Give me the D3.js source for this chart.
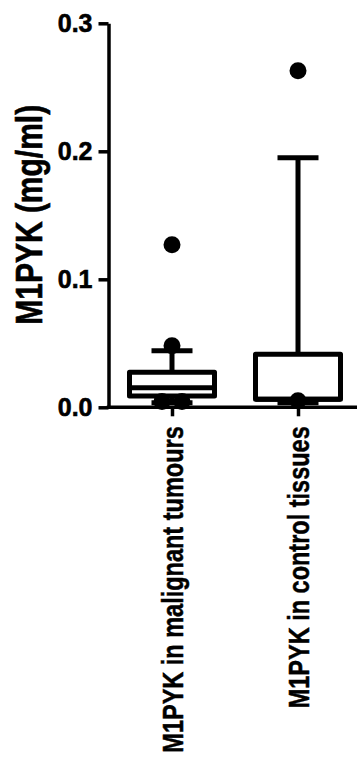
<!DOCTYPE html>
<html>
<head>
<meta charset="utf-8">
<script src="https://cdn.jsdelivr.net/npm/d3@7"></script>
<style>
  body { margin: 0; background: #fff; }
  svg { display: block; font-family: "Liberation Sans", Arial, sans-serif; font-weight: bold; }
</style>
</head>
<body>
<svg class="boxchart" width="359" height="758"></svg>
<script>
(function () {

    'use strict';

    // data
    var categories = ['M1PYK in malignant tumours', 'M1PYK in control tissues'];
    var whiskerLow = [0.0035, 0.0035];
    var q1 = [0.0088, 0.0062];
    var median = [0.0152, 0.0062];
    var q3 = [0.0273, 0.0414];
    var whiskerHigh = [0.0442, 0.1950];
    var outliers = [
        [0.127, 0.048, 0.0045, 0.0045],
        [0.263, 0.0052]
    ];
    var yTicks = [0.0, 0.1, 0.2, 0.3];
    var yTitle = 'M1PYK (mg/ml)';

    var svg = d3.select('svg.boxchart');
    var axisLeftX = 108.5, axisRightX = 357;
    var top = 23.3, bottom = 407.3;

    var y = d3.scaleLinear().domain([0, 0.3]).range([bottom, top]);
    var x = d3.scalePoint().domain(categories).range([172, 298]);

    var boxW = 85, capW = 41, dotR = 8.5;

    var groups = categories.map(function (c, i) {
        return {
            name: c, low: whiskerLow[i], q1: q1[i], med: median[i],
            q3: q3[i], high: whiskerHigh[i], out: outliers[i]
        };
    });

    var g = svg.append('g');

    // y axis
    var yAxis = g.append('g')
        .attr('transform', 'translate(' + axisLeftX + ',0)')
        .call(d3.axisLeft(y).tickValues(yTicks).tickFormat(d3.format('.1f'))
            .tickSize(10).tickSizeOuter(0).tickPadding(6));
    yAxis.select('.domain').attr('stroke', '#000').attr('stroke-width', 3.5);
    yAxis.selectAll('.tick line').attr('stroke', '#000').attr('stroke-width', 3.5);
    yAxis.selectAll('.tick text')
        .attr('fill', '#000')
        .attr('stroke', '#000')
        .attr('stroke-width', 0.6)
        .attr('font-size', 25)
        .attr('font-family', '"Liberation Sans", Arial, sans-serif')
        .attr('font-weight', 'bold');

    // y title
    g.append('text')
        .attr('transform', 'translate(42,' + ((top + bottom) / 2 - 0.5) + ') rotate(-90) scale(1,1.25)')
        .attr('text-anchor', 'middle')
        .attr('font-size', 30)
        .attr('fill', '#000')
        .attr('stroke', '#000')
        .attr('stroke-width', 0.5)
        .text(yTitle);

    // x axis
    var xAxis = g.append('g')
        .attr('transform', 'translate(0,' + bottom + ')')
        .call(d3.axisBottom(x).tickSize(9).tickSizeOuter(0).tickPadding(8));
    xAxis.select('.domain').remove();
    xAxis.insert('line', ':first-child')
        .attr('x1', axisLeftX - 1.75).attr('x2', axisRightX)
        .attr('stroke', '#000').attr('stroke-width', 3.5);
    xAxis.selectAll('.tick line').attr('stroke', '#000').attr('stroke-width', 3.5);
    xAxis.selectAll('.tick text')
        .attr('fill', '#000')
        .attr('stroke', '#000')
        .attr('stroke-width', 0.4)
        .attr('font-size', 23.5)
        .attr('font-family', '"Liberation Sans", Arial, sans-serif')
        .attr('font-weight', 'bold')
        .attr('text-anchor', 'end')
        .attr('transform', 'rotate(-90) scale(1,1.25)')
        .attr('x', -19)
        .attr('y', 0)
        .attr('dy', '0.36em');

    // boxes
    var box = g.append('g').selectAll('g')
        .data(groups)
        .enter().append('g')
        .attr('transform', function (d) { return 'translate(' + x(d.name) + ',0)'; });

    box.append('line')
        .attr('x1', 0).attr('x2', 0)
        .attr('y1', function (d) { return y(d.high); })
        .attr('y2', function (d) { return y(d.low); })
        .attr('stroke', '#000').attr('stroke-width', 5);

    box.append('line')
        .attr('x1', -capW / 2).attr('x2', capW / 2)
        .attr('y1', function (d) { return y(d.high); })
        .attr('y2', function (d) { return y(d.high); })
        .attr('stroke', '#000').attr('stroke-width', 5);

    box.append('line')
        .attr('x1', -capW / 2).attr('x2', capW / 2)
        .attr('y1', function (d) { return y(d.low); })
        .attr('y2', function (d) { return y(d.low); })
        .attr('stroke', '#000').attr('stroke-width', 5);

    box.append('rect')
        .attr('x', -boxW / 2)
        .attr('width', boxW)
        .attr('y', function (d) { return y(d.q3); })
        .attr('height', function (d) { return y(d.q1) - y(d.q3); })
        .attr('fill', '#fff')
        .attr('stroke', '#000')
        .attr('stroke-width', 5)
        .attr('stroke-linejoin', 'round');

    box.append('line')
        .attr('x1', -boxW / 2).attr('x2', boxW / 2)
        .attr('y1', function (d) { return y(d.med); })
        .attr('y2', function (d) { return y(d.med); })
        .attr('stroke', '#000').attr('stroke-width', 5);

    // outliers, spread sideways when they share a value
    box.selectAll('circle')
        .data(function (d) {
            var counts = {};
            d.out.forEach(function (v) { counts[v] = (counts[v] || 0) + 1; });
            var seen = {};
            return d.out.map(function (v) {
                var n = counts[v], k = seen[v] = (seen[v] || 0) + 1;
                return { value: v, dx: (k - (n + 1) / 2) * 2.35 * dotR };
            });
        })
        .enter().append('circle')
        .attr('cx', function (d) { return d.dx; })
        .attr('cy', function (d) { return y(d.value); })
        .attr('r', dotR)
        .attr('fill', '#000');
})();
</script>
</body>
</html>
